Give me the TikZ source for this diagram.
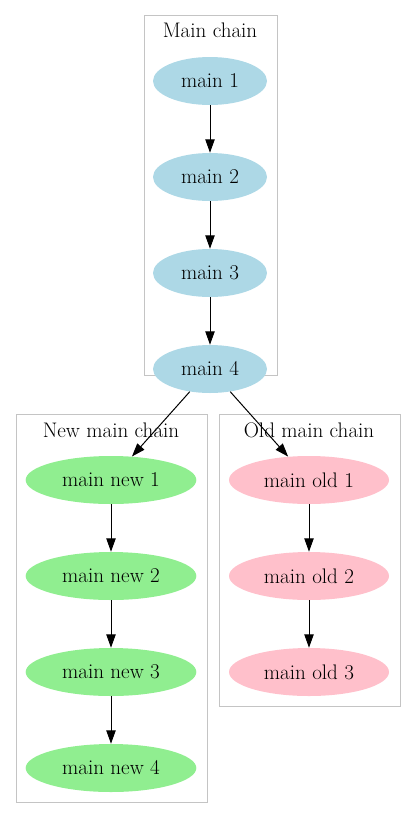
\documentclass[tikz,border=0pt]{standalone}
\usetikzlibrary{arrows.meta, shapes.geometric}
\definecolor{mainblue}{HTML}{ADD8E6}
\definecolor{newgreen}{HTML}{90EE90}
\definecolor{oldpink}{HTML}{FFC0CB}
\definecolor{clustergrey}{HTML}{C4C4C4}

\begin{document}
\begin{tikzpicture}[x=0.75pt, y=-0.75pt,
    every node/.style={font=\fontsize{15.8}{19}\selectfont},
    chainnode/.style={ellipse, inner sep=0pt, minimum height=36pt},
    mainnode/.style={chainnode, fill=mainblue, minimum width=85.5pt},
    newnode/.style={chainnode, fill=newgreen, minimum width=128pt},
    oldnode/.style={chainnode, fill=oldpink, minimum width=120pt},
    cluster/.style={draw=clustergrey, line width=0.75pt},
    link/.style={-{Triangle[length=10pt, width=7pt]}, line width=0.75pt}]
    \useasboundingbox (0,0) rectangle (416,819);

    % clusters
    \draw[cluster] (144,15) rectangle (277,375);
    \node (lmain) at (210,30) {Main chain};
    \draw[cluster] (16,414) rectangle (207,802);
    \node (lnew) at (111,430) {New main chain};
    \draw[cluster] (219,414) rectangle (400,706);
    \node (lold) at (309,430) {Old main chain};

    % nodes
    \foreach \i in {1,...,4}
        \node[mainnode] (m\i) at (210,{81+96*(\i-1)}) {main \i};
    \foreach \i in {1,...,4}
        \node[newnode] (n\i) at (111,{480+96*(\i-1)}) {main new \i};
    \foreach \i in {1,...,3}
        \node[oldnode] (o\i) at (309,{480+96*(\i-1)}) {main old \i};

    % edges
    \draw[link] (m1) -- (m2);
    \draw[link] (m2) -- (m3);
    \draw[link] (m3) -- (m4);
    \draw[link] (m4) -- (n1);
    \draw[link] (m4) -- (o1);
    \draw[link] (n1) -- (n2);
    \draw[link] (n2) -- (n3);
    \draw[link] (n3) -- (n4);
    \draw[link] (o1) -- (o2);
    \draw[link] (o2) -- (o3);
\end{tikzpicture}
\end{document}
